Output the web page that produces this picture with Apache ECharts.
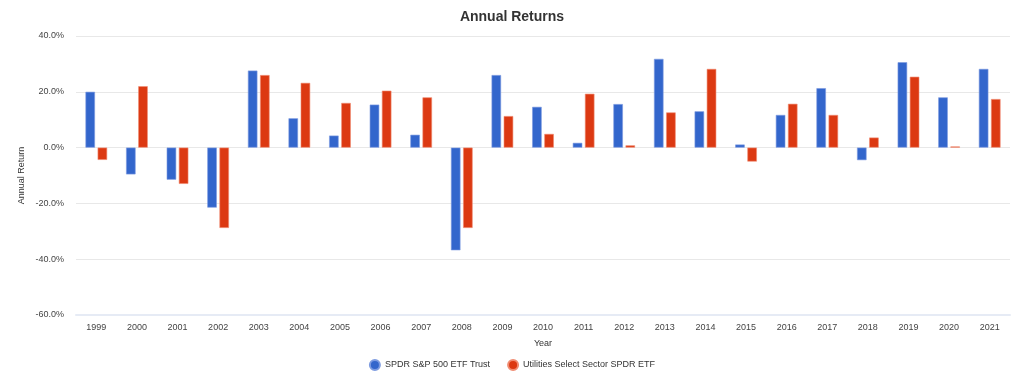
<!DOCTYPE html>
<html>
<head>
<meta charset="utf-8">
<script src="https://cdn.jsdelivr.net/npm/echarts@6/dist/echarts.min.js"></script>
<style>html,body{margin:0;padding:0;background:#fff}#c{width:1024px;height:382px}</style>
</head>
<body>
<div id="c"></div>
<script>
const years = ['1999','2000','2001','2002','2003','2004','2005','2006','2007','2008','2009','2010','2011','2012','2013','2014','2015','2016','2017','2018','2019','2020','2021'];
const spy = [20.0,-9.6,-11.5,-21.5,27.6,10.5,4.3,15.4,4.6,-36.8,26.0,14.6,1.7,15.6,31.8,13.0,1.1,11.7,21.3,-4.5,30.6,18.0,28.2];
const xlu = [-4.4,22.0,-13.0,-28.8,26.0,23.2,16.0,20.4,18.0,-28.8,11.3,4.9,19.3,0.8,12.6,28.2,-5.0,15.7,11.7,3.6,25.4,0.4,17.4];
const seriesNames = ['SPDR S&P 500 ETF Trust','Utilities Select Sector SPDR ETF'];

const font = 'Liberation Sans, Arial, Helvetica, sans-serif';
const chart = echarts.init(document.getElementById('c'));
chart.setOption({
  animation: false,
  title: {text: 'Annual Returns', left: 'center', top: 5,
    textStyle: {fontFamily: font, fontSize: 14, fontWeight: 'bold', color: '#333'}},
  grid: {left: 76, right: 14, top: 36, bottom: 67},
  legend: {bottom: 6, left: 'center', icon: 'circle', itemWidth: 10, itemHeight: 10, itemGap: 17,
    textStyle: {fontFamily: font, fontSize: 9, color: '#333'}},
  xAxis: {type: 'category', data: years, name: 'Year', nameLocation: 'middle', nameGap: 24,
    nameTextStyle: {fontFamily: font, fontSize: 9, color: '#333'},
    axisLine: {onZero: false, lineStyle: {color: '#e6ebf5', width: 2}},
    axisTick: {show: false},
    axisLabel: {fontFamily: font, fontSize: 9, color: '#444', margin: 8}},
  yAxis: {type: 'value', min: -60, max: 40, interval: 20, name: 'Annual Return',
    nameLocation: 'middle', nameGap: 50, nameRotate: 90, nameMoveOverlap: false,
    nameTextStyle: {fontFamily: font, fontSize: 9, color: '#333'},
    axisLabel: {formatter: v => v.toFixed(1) + '%', fontFamily: font, fontSize: 9, color: '#444', margin: 12},
    splitLine: {lineStyle: {color: '#e8e8e8'}}},
  series: [
    {name: seriesNames[0], type: 'bar', data: spy, barWidth: 9.5, barGap: '28%',
      itemStyle: {color: '#3366cc', borderColor: '#7d9be0', borderWidth: 0.6}},
    {name: seriesNames[1], type: 'bar', data: xlu, barWidth: 9.5,
      itemStyle: {color: '#dc3912', borderColor: '#f08c72', borderWidth: 0.6}}
  ]
});
</script>
</body>
</html>
